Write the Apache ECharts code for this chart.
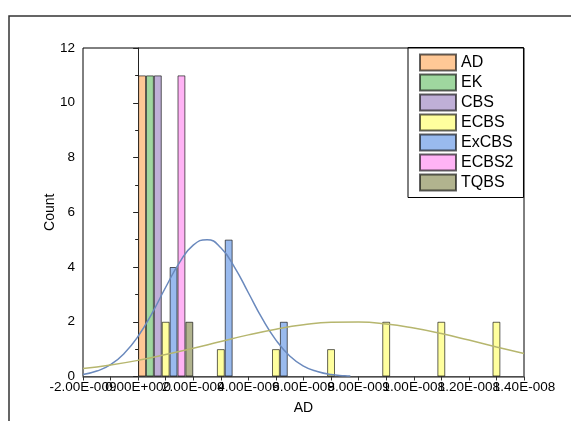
<!DOCTYPE html>
<html><head><meta charset="utf-8">
<script src="https://cdn.jsdelivr.net/npm/echarts@6/dist/echarts.min.js"></script>
<style>html,body{margin:0;padding:0;background:#fff}#c{width:571px;height:421px}</style>
</head><body><div id="c"></div>
<script>
// All x values are in units of 1E-9 (AD)
const seriesNames = ['AD', 'EK', 'CBS', 'ECBS', 'ExCBS', 'ECBS2', 'TQBS'];
const seriesColors = ['#FFC896', '#9FD79F', '#BFAFD7', '#FFFF9E', '#99BAEE', '#FFB3F5', '#B1B38E'];

// histogram bins: [bin centre, count]
const adBins    = [[1, 11]];
const ekBins    = [[1, 11]];
const cbsBins   = [[1, 11]];
const ecbsBins  = [[1, 2], [3, 1], [5, 1], [7, 1], [9, 2], [11, 2], [13, 2]];
const excbsBins = [[1, 4], [3, 5], [5, 2]];
const ecbs2Bins = [[1, 11]];
const tqbsBins  = [[1, 2]];
const allBins = [adBins, ekBins, cbsBins, ecbsBins, excbsBins, ecbs2Bins, tqbsBins];

// fitted curves
const excbsFitX = [-2, -1.5, -1, -0.5, 0, 0.5, 1, 1.5, 2, 2.5, 3, 3.5, 4, 4.5, 5, 5.5, 6, 6.5, 7, 7.5, 7.7];
const excbsFitY = [0.07, 0.2, 0.43, 0.85, 1.47, 2.30, 3.26, 4.16, 4.80, 5.00, 4.70, 3.99, 3.06, 2.12, 1.33, 0.75, 0.38, 0.18, 0.07, 0.03, 0.02];
const ecbsFitX = [-2, -1, 0, 1, 2, 3, 4, 5, 6, 7, 8, 9, 10, 11, 12, 13, 14];
const ecbsFitY = [0.29, 0.42, 0.59, 0.80, 1.03, 1.28, 1.52, 1.73, 1.89, 1.98, 1.99, 1.92, 1.77, 1.57, 1.33, 1.08, 0.84];

const xMin = -2, xMax = 14, xStep = 1;
const yMin = 0, yMax = 12, yStep = 2;

const FONT = "Arial, 'Liberation Sans', sans-serif";

function sci(v) {
  if (Math.abs(v) < 1e-12) return '0.00E+000';
  let e = Math.floor(Math.log10(Math.abs(v))) - 9;
  let m = v / Math.pow(10, e + 9);
  if (Math.abs(m) >= 9.995) { m /= 10; e += 1; }
  return m.toFixed(2) + 'E' + (e < 0 ? '-' : '+') + String(Math.abs(e)).padStart(3, '0');
}

const chart = echarts.init(document.getElementById('c'), null, {renderer: 'canvas'});

const barSeries = seriesNames.map((n, i) => ({
  name: n, type: 'bar', data: allBins[i],
  barGap: '0%', barCategoryGap: '0%',
  itemStyle: {color: seriesColors[i], borderColor: 'rgba(0,0,0,0.62)', borderWidth: 1},
  emphasis: {disabled: true}, animation: false
}));

const lineSeries = [
  {type: 'line', data: excbsFitX.map((x, i) => [x, excbsFitY[i]]), smooth: true, showSymbol: false, symbol: 'none',
   lineStyle: {color: '#6A89BD', width: 1.5}, silent: true, animation: false, z: 5},
  {type: 'line', data: ecbsFitX.map((x, i) => [x, ecbsFitY[i]]), smooth: true, showSymbol: false, symbol: 'none',
   lineStyle: {color: '#B6B66E', width: 1.5}, silent: true, animation: false, z: 5}
];

chart.setOption({
  animation: false,
  backgroundColor: '#fff',
  textStyle: {fontFamily: FONT},
  graphic: [{type: 'rect', shape: {x: 9, y: 16, width: 700, height: 600}, style: {fill: 'none', stroke: '#333', lineWidth: 1.5}, z: -1}],
  grid: {left: 83, right: 47, top: 48, bottom: 44.5, show: true, borderColor: '#000', borderWidth: 1, backgroundColor: 'transparent'},
  legend: {
    orient: 'vertical', left: 408, top: 47.5, data: seriesNames,
    itemWidth: 36, itemHeight: 16, itemGap: 2, icon: 'rect',
    padding: [6, 10, 6, 11], borderColor: '#000', borderWidth: 1,
    textStyle: {fontFamily: FONT, fontSize: 16, color: '#000', lineHeight: 16, padding: 0},
    selectedMode: false
  },
  xAxis: {
    type: 'value', min: xMin, max: xMax, interval: xStep,
    name: 'AD', nameLocation: 'middle', nameGap: 25, nameMoveOverlap: false,
    nameTextStyle: {fontFamily: FONT, fontSize: 14, color: '#000'},
    axisLine: {show: true, lineStyle: {color: '#666', width: 1.5}},
    axisTick: {show: true, inside: false, length: 4, lineStyle: {color: '#333'}},
    axisLabel: {fontFamily: FONT, fontSize: 13.5, color: '#000', margin: 4,
      formatter: v => (Math.round(v) % 2 === 0) ? sci(v) : ''},
    splitLine: {show: false}
  },
  yAxis: {
    type: 'value', min: yMin, max: yMax, interval: yStep,
    name: 'Count', nameLocation: 'middle', nameGap: 26, nameMoveOverlap: false,
    nameTextStyle: {fontFamily: FONT, fontSize: 14, color: '#000'},
    axisLine: {show: true, lineStyle: {color: '#222', width: 1}},
    axisTick: {show: true, inside: false, length: 5, lineStyle: {color: '#222'}},
    minorTick: {show: true, splitNumber: 2, length: 3, lineStyle: {color: '#222'}},
    axisLabel: {fontFamily: FONT, fontSize: 13.5, color: '#000', margin: 8},
    splitLine: {show: false}
  },
  series: barSeries.concat(lineSeries)
});
</script></body></html>
